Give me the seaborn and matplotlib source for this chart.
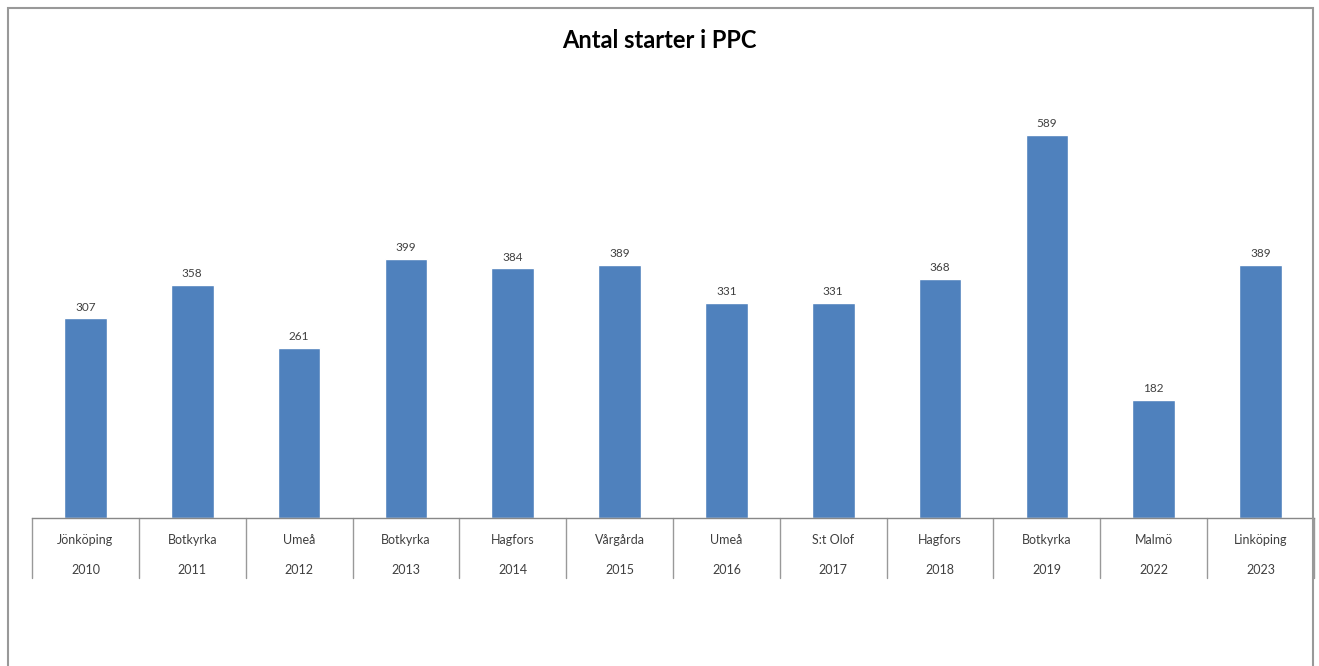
import seaborn as sns
import matplotlib.pyplot as plt
import matplotlib.transforms as mtransforms
from matplotlib.patches import Rectangle
import pandas as pd

# data
cities = ["Jönköping", "Botkyrka", "Umeå", "Botkyrka", "Hagfors", "Vårgårda",
          "Umeå", "S:t Olof", "Hagfors", "Botkyrka", "Malmö", "Linköping"]
years = ["2010", "2011", "2012", "2013", "2014", "2015",
         "2016", "2017", "2018", "2019", "2022", "2023"]
starts = [307, 358, 261, 399, 384, 389, 331, 331, 368, 589, 182, 389]

df = pd.DataFrame({"year": years, "city": cities, "starts": starts})

sns.set_style("white")
plt.rcParams["font.family"] = ["Lato", "DejaVu Sans"]

W, H = 1319, 666
fig = plt.figure(figsize=(W / 100, H / 100), dpi=100)
ax = fig.add_axes([32 / W, 148 / H, (1314 - 32) / W, 455 / H])

sns.barplot(data=df, x="year", y="starts", color="#4F81BD", width=0.4,
            saturation=1, ax=ax, order=years)

ax.set_ylim(0, 700)
ax.set_xlim(-0.5, len(years) - 0.5)
ax.set_xlabel("")
ax.set_ylabel("")
ax.set_yticks([])
ax.set_xticks([])
for s in ["top", "left", "right"]:
    ax.spines[s].set_visible(False)
ax.spines["bottom"].set_color("#888888")
ax.spines["bottom"].set_linewidth(1.0)

# value labels
for p, v in zip(ax.patches, starts):
    ax.text(p.get_x() + p.get_width() / 2, v + 9, str(v), ha="center",
            va="bottom", fontsize=8.5, color="#404040")

# two-level category axis
trans = mtransforms.blended_transform_factory(ax.transData, ax.transAxes)
lo = -60 / 455
for i in range(len(years) + 1):
    ax.plot([i - 0.5, i - 0.5], [0, lo], color="#999999", lw=1.0,
            transform=trans, clip_on=False)
for i, (c, y) in enumerate(zip(cities, years)):
    ax.text(i, -22 / 455, c, transform=trans, ha="center", va="center",
            fontsize=9, color="#404040")
    ax.text(i, -52 / 455, y, transform=trans, ha="center", va="center",
            fontsize=9, color="#404040")

fig.text(0.5, 1 - 40 / H, "Antal starter i PPC", ha="center", va="center",
         fontsize=17, fontweight="bold", color="black")

# chart border
fig.patches.append(Rectangle((8 / W, -0.05), (1313 - 8) / W, 1.05 - 8 / H,
                             transform=fig.transFigure, fill=False,
                             edgecolor="#999999", linewidth=1.5))

fig.savefig("out.png", dpi=100)
